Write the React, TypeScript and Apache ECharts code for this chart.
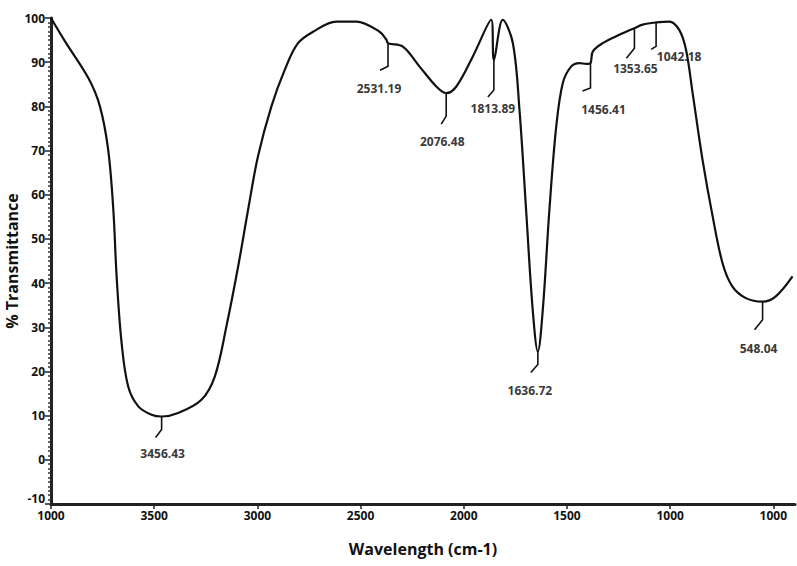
import React, { useEffect, useRef } from "react";
import * as echarts from "echarts";

// Spectrum (wavenumber, cm-1) and % transmittance
const waveNumbers = [
  4000, 3932, 3819, 3763, 3723, 3698, 3682, 3658, 3626, 3577, 3513, 3464, 3384,
  3271, 3206, 3150, 3093, 3045, 2997, 2932, 2867, 2805, 2730, 2617, 2520, 2408,
  2375, 2367, 2295, 2214, 2133, 2085, 2036, 1956, 1867, 1854, 1811, 1762, 1730,
  1698, 1666, 1641, 1617, 1585, 1552, 1520, 1480, 1440, 1407, 1386, 1375, 1327,
  1246, 1173, 1133, 1068, 1004, 956, 923, 891, 843, 794, 746, 698, 633, 552, 488,
  407,
];
const transmittance = [
  100, 94.7, 86.4, 80.0, 70.2, 56.6, 41.5, 26.5, 16.6, 12.1, 10.2, 9.8, 10.6,
  13.6, 18.9, 30.2, 43.8, 56.6, 68.7, 80.0, 88.3, 94.2, 96.9, 99.2, 99.2, 96.9,
  95.1, 94.3, 93.5, 89.0, 84.5, 83.0, 84.5, 91.3, 99.6, 90.5, 99.6, 94.3, 79.2,
  56.6, 34.0, 24.5, 34.0, 56.6, 75.4, 85.3, 89.0, 89.8, 89.6, 89.8, 92.4, 94.3,
  96.2, 97.7, 98.5, 99.0, 99.2, 97.3, 92.8, 83.0, 67.9, 55.1, 44.5, 39.2, 36.6,
  35.8, 37.0, 41.5,
];

const xTickValues = [4000, 3500, 3000, 2500, 2000, 1500, 1000, 500];
const xTickLabels = ["1000", "3500", "3000", "2500", "2000", "1500", "1000", "1000"];

// Peak annotations
const peakWave = [3464, 2367, 2085, 1854, 1641, 1386, 1173, 1068, 552];
const peakT = [9.8, 94.3, 83.0, 90.5, 24.5, 89.8, 97.7, 99.0, 35.8];
const peakLabels = [
  "3456.43", "2531.19", "2076.48", "1813.89", "1636.72", "1456.41", "1353.65",
  "1042.18", "548.04",
];
// layout of each annotation: [stem, diagDx, diagDy, textDx, textDy] in px
const peakLayout = [
  [13, -6, 8, 1, 37],
  [23, -8, 4, -9, 45],
  [23, -5, 8, -4, 48],
  [30, -6, 7, -1, 49],
  [13, -7, 8, -8, 39],
  [25, -8, 3, 13, 46],
  [20, -8, 10, 1, 40],
  [24, -5, 3, 23, 34],
  [18, -8, 10, -4, 47],
];

const FONT = "'Open Sans', 'DejaVu Sans', sans-serif";

export default function App() {
  const ref = useRef<HTMLDivElement>(null);
  useEffect(() => {
    if (!ref.current) return;
    const chart = echarts.init(ref.current, null, { renderer: "svg" });
    const lineData = waveNumbers.map((w, i) => [w, transmittance[i]]);
    const peakData = peakWave.map((w, i) => [w, peakT[i]]);
    chart.setOption({
      animation: false,
      backgroundColor: "#ffffff",
      grid: {
        left: 51,
        top: 18,
        width: 744,
        height: 486,
        containLabel: false,
        outerBoundsMode: "none",
      },
      xAxis: {
        type: "value",
        inverse: true,
        min: 395,
        max: 4000,
        name: "Wavelength (cm-1)",
        nameLocation: "middle",
        nameGap: 37,
        nameMoveOverlap: false,
        nameTextStyle: { fontFamily: FONT, fontWeight: "bold", fontSize: 16, color: "#111" },
        axisLine: { show: true, onZero: false, lineStyle: { color: "#222", width: 3 } },
        axisTick: { show: true, customValues: xTickValues, length: 5, lineStyle: { color: "#222", width: 1.5 } },
        axisLabel: {
          customValues: xTickValues,
          margin: 5,
          fontFamily: FONT,
          fontWeight: "bold",
          fontSize: 12,
          color: "#111",
          formatter: (v: number) => {
            const idx = xTickValues.indexOf(v);
            return idx >= 0 ? xTickLabels[idx] : "";
          },
        },
        splitLine: { show: false },
      },
      yAxis: {
        type: "value",
        min: -10,
        max: 100,
        interval: 10,
        name: "% Transmittance",
        nameLocation: "middle",
        nameRotate: 90,
        nameGap: 31,
        nameMoveOverlap: false,
        nameTextStyle: { fontFamily: FONT, fontWeight: "bold", fontSize: 16, color: "#111" },
        axisLine: { show: true, lineStyle: { color: "#222", width: 3 } },
        axisTick: { show: true, length: 6, lineStyle: { color: "#222", width: 1.5 } },
        minorTick: { show: true, splitNumber: 10, length: 3, lineStyle: { color: "#333", width: 1.5 } },
        axisLabel: {
          margin: 6,
          fontFamily: FONT,
          fontWeight: "bold",
          fontSize: 12,
          color: "#111",
          verticalAlignMinLabel: "bottom",
        },
        splitLine: { show: false },
      },
      series: [
        {
          type: "custom",
          z: 2,
          data: peakData,
          clip: false,
          renderItem: (params: any, api: any) => {
            const i = params.dataIndex;
            const p = api.coord([api.value(0), api.value(1)]);
            const [stem, ddx, ddy, tdx, tdy] = peakLayout[i];
            return {
              type: "group",
              children: [
                {
                  type: "polyline",
                  shape: {
                    points: [
                      [p[0], p[1]],
                      [p[0], p[1] + stem],
                      [p[0] + ddx, p[1] + stem + ddy],
                    ],
                  },
                  style: { stroke: "#111", lineWidth: 1.6, fill: null },
                },
                {
                  type: "text",
                  x: p[0] + tdx,
                  y: p[1] + tdy,
                  style: {
                    text: peakLabels[i],
                    fill: "#3a3a3a",
                    fontFamily: FONT,
                    fontWeight: "bold",
                    fontSize: 12,
                    align: "center",
                    verticalAlign: "middle",
                  },
                },
              ],
            };
          },
        },
        {
          type: "line",
          z: 3,
          data: lineData,
          showSymbol: false,
          smooth: 0.35,
          lineStyle: { color: "#111", width: 2.2 },
        },
      ],
    });
    return () => chart.dispose();
  }, []);
  return (
    <div
      ref={ref}
      style={{ position: "fixed", left: 0, top: 0, width: 797, height: 566, background: "#fff" }}
    />
  );
}
